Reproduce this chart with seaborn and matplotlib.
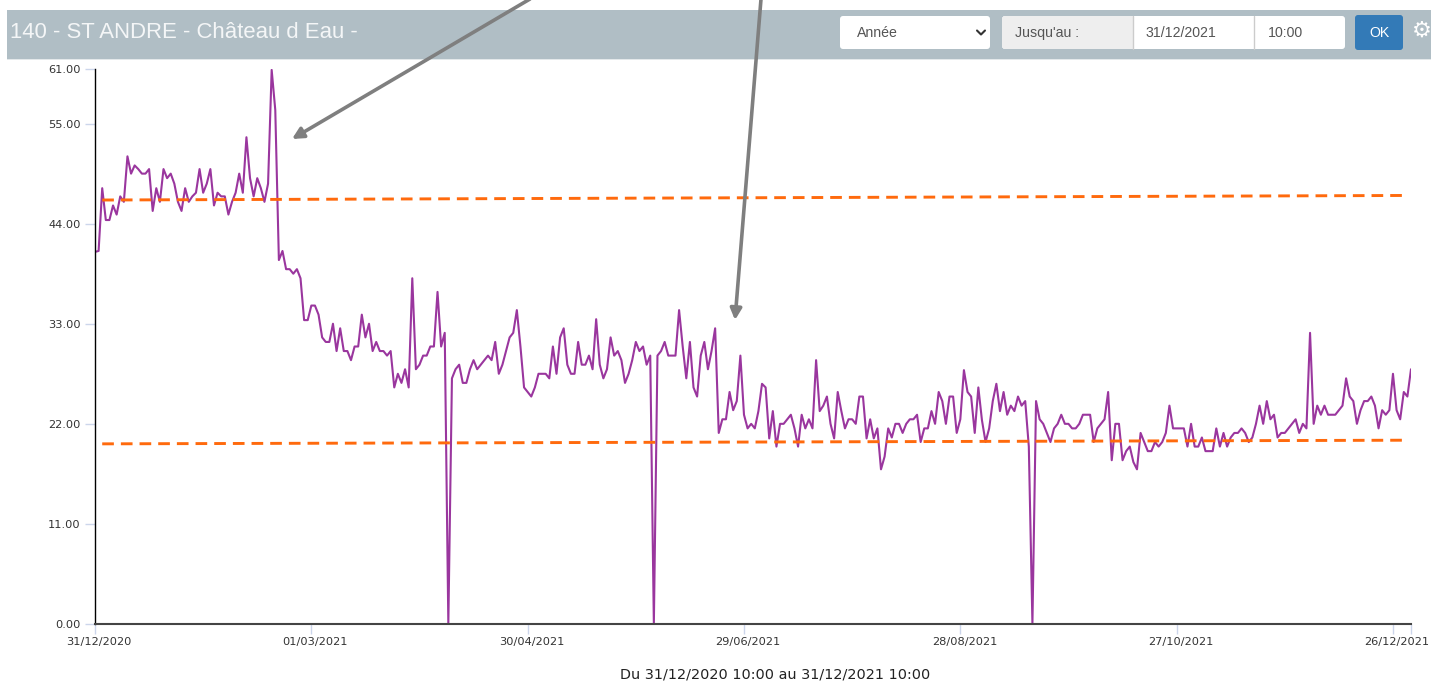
import matplotlib
matplotlib.use("Agg")
import matplotlib.pyplot as plt
import matplotlib.dates as mdates
from matplotlib.patches import Rectangle, FancyBboxPatch
from matplotlib.transforms import ScaledTranslation
import pandas as pd
import seaborn as sns

# daily readings
values = [
    40.9, 41, 47.9, 44.4, 44.4, 46, 45, 47, 46.4, 51.4,
    49.5, 50.4, 50, 49.5, 49.5, 50, 45.4, 47.9, 46.4, 50,
    49, 49.5, 48.4, 46.4, 45.4, 47.9, 46.4, 47, 47.4, 50,
    47.4, 48.4, 50, 46, 47.4, 47, 47, 45, 46.4, 47.4,
    49.5, 47.4, 53.5, 49, 47, 49, 47.9, 46.4, 48.4, 60.9,
    56.5, 40, 41, 39, 39, 38.5, 39, 38, 33.4, 33.4,
    35, 35, 34, 31.5, 31, 31, 33, 30, 32.5, 30,
    30, 29, 30.5, 30.5, 34, 31.5, 33, 30, 31, 30,
    30, 29.5, 30, 26, 27.5, 26.5, 28, 26, 38, 28,
    28.5, 29.5, 29.5, 30.5, 30.5, 36.5, 30.5, 32, 0, 27,
    28, 28.5, 26.5, 26.5, 28, 29, 28, 28.5, 29, 29.5,
    29, 31, 27.5, 28.5, 30, 31.5, 32, 34.5, 30.5, 26,
    25.5, 25, 26, 27.5, 27.5, 27.5, 27, 30.5, 27.5, 31.5,
    32.5, 28.5, 27.5, 27.5, 31, 28.5, 28.5, 29.5, 28, 33.5,
    28.5, 27, 28, 31.5, 29.5, 30, 29, 26.5, 27.5, 29,
    31, 30, 30.5, 28.5, 29.5, 0, 29.5, 30, 31, 29.5,
    29.5, 29.5, 34.5, 30.5, 27, 31, 26, 25, 29.5, 31,
    28, 30, 32.5, 21, 22.5, 22.5, 25.5, 23.5, 24.5, 29.5,
    23, 21.5, 22, 21.5, 23.4, 26.4, 26, 20.4, 23.4, 19.5,
    22, 22, 22.5, 23, 21.5, 19.5, 23, 21.5, 22.5, 21.5,
    29, 23.4, 24, 25, 22, 20.4, 25.5, 23.4, 21.5, 22.5,
    22.5, 22, 25, 25, 20.4, 22.5, 20.4, 21.5, 17, 18.4,
    21.5, 20.5, 22, 22, 21, 22, 22.5, 22.5, 23, 20,
    21.5, 21.5, 23.4, 22, 25.5, 24.5, 22, 25, 25, 21,
    22.5, 27.9, 25.5, 25, 21, 26, 22.4, 20, 21.5, 24.5,
    26.4, 23.4, 25.5, 23, 24, 23.4, 25, 24, 24.5, 19.5,
    0, 24.5, 22.5, 22, 21, 20, 21.5, 22, 23, 22,
    22, 21.5, 21.5, 22, 23, 23, 23, 20, 21.5, 22,
    22.5, 25.5, 18, 22, 22, 18, 19, 19.5, 17.8, 17,
    21, 20, 19, 19, 20, 19.5, 20, 21, 24, 21.5,
    21.5, 21.5, 21.5, 19.5, 22, 19.5, 19.5, 20.5, 19, 19,
    19, 21.5, 19.5, 21, 19.5, 20.5, 21, 21, 21.5, 21,
    20, 20.5, 22, 24, 22, 24.5, 22.5, 23, 20.5, 21,
    21, 21.5, 22, 22.5, 21, 22, 21.5, 32, 22, 24,
    23, 24, 23, 23, 23, 23.5, 24, 27, 25, 24.5,
    22, 23.5, 24.5, 24.5, 25, 24, 21.5, 23.5, 23, 23.5,
    27.5, 23.5, 22.5, 25.5, 25, 28,
]
upper_limit = [46.6, 47.1]
lower_limit = [19.8, 20.2]
limit_dates = ["2021-01-02", "2021-12-29"]
y_ticks = [0, 11, 22, 33, 44, 55, 61]
x_tick_dates = ["2020-12-31", "2021-03-01", "2021-04-30", "2021-06-29",
                "2021-08-28", "2021-10-27", "2021-12-26", "2021-12-31"]
x_tick_labels = ["31/12/2020", "01/03/2021", "30/04/2021", "29/06/2021",
                 "28/08/2021", "27/10/2021", "26/12/2021", ""]

W, H = 1431, 681
purple = "#9a369e"
orange = "#ff6a0d"
tick_color = "#ccd6eb"
header_color = "#b0bec5"

sns.set_theme(style="white")
plt.rcParams["font.family"] = ["DejaVu Sans"]

fig = plt.figure(figsize=(W / 100, H / 100), dpi=100)
ax = fig.add_axes([95 / W, 1 - 624 / H, (1411 - 95) / W, (624 - 69) / H])

data = pd.DataFrame({"date": pd.date_range("2020-12-31", periods=len(values)), "value": values})
limits = pd.DataFrame({"date": pd.to_datetime(limit_dates), "upper": upper_limit, "lower": lower_limit})

sns.lineplot(data, x="date", y="value", color=purple, linewidth=1.5, ax=ax)
for col in ["upper", "lower"]:
    sns.lineplot(limits, x="date", y=col, color=orange, linewidth=2.1,
                 linestyle=(0, (4.0, 2.4)), ax=ax)

ax.set_xlim(data["date"].iloc[0], data["date"].iloc[-1])
ax.set_ylim(0, 61)
ax.set_xlabel("")
ax.set_ylabel("")
ax.set_yticks(y_ticks)
ax.set_yticklabels([f"{v:.2f}" for v in y_ticks])
ax.set_xticks(mdates.date2num(pd.to_datetime(x_tick_dates)))
ax.set_xticklabels(x_tick_labels)
ax.tick_params(axis="both", left=True, bottom=True, length=7.5, width=1, color=tick_color,
               labelsize=8.2, labelcolor="#333333", pad=2)
ax.tick_params(axis="y", pad=3)

# labels sit a little right of their tick
shift = ScaledTranslation(3 / 72, 0, fig.dpi_scale_trans)
for lab in ax.get_xticklabels():
    lab.set_transform(lab.get_transform() + shift)

sns.despine(ax=ax)
ax.spines["left"].set_color("black")
ax.spines["left"].set_linewidth(1)
ax.spines["bottom"].set_color("#444444")
ax.spines["bottom"].set_linewidth(1.5)

# page overlay in pixels: header bar, controls, arrows, caption
page = fig.add_axes([0, 0, 1, 1], zorder=5)
page.set_xlim(0, W)
page.set_ylim(H, 0)
page.axis("off")
page.patch.set_alpha(0)

page.add_patch(Rectangle((7, 10), W - 7, 49, color=header_color, lw=0))
page.add_patch(Rectangle((7, 59), W - 7, 1, color="#e3e8ea", lw=0))
page.text(10, 32.5, "140 - ST ANDRE - Château d Eau -", color="#f4f6f7", fontsize=15.9,
          family="Liberation Sans", va="center")


def box(x0, y0, x1, y1, color):
    page.add_patch(FancyBboxPatch((x0 + 3, y0 + 3), x1 - x0 - 6, y1 - y0 - 6, boxstyle="round,pad=3",
                                  fc=color, ec="none"))


box(840, 16, 990, 49, "white")
box(1002, 16, 1345, 49, "white")
box(1002, 16, 1136, 49, "#eeeeee")
page.add_patch(Rectangle((1133, 16), 121, 33, fc="white", ec="none"))
page.plot([1133, 1133], [16, 49], color="#cccccc", lw=1)
page.plot([1254, 1254], [16, 49], color="#cccccc", lw=1)
box(1355, 15, 1403, 50, "#337ab7")

ui_text = dict(family="Liberation Sans", fontsize=10.2, color="#555555", va="center")
page.text(857, 33, "Année", **ui_text)
page.text(1015, 33, "Jusqu'au :", **ui_text)
page.text(1146, 33, "31/12/2021", **ui_text)
page.text(1268, 33, "10:00", **ui_text)
page.text(1379, 33, "OK", family="Liberation Sans", fontsize=10.2, color="white", va="center", ha="center")
page.plot([977, 981, 985], [30.5, 34.5, 30.5], color="#333333", lw=1.5)
page.text(1422, 31, "\u2699", color="white", fontsize=16, ha="center", va="center", family="DejaVu Sans")

for start, end in [((530, -1), (292, 139)), ((761, -1), (735, 320))]:
    page.annotate("", xy=end, xytext=start, xycoords="data", textcoords="data", annotation_clip=False,
                  arrowprops=dict(arrowstyle="-|>,head_length=0.55,head_width=0.28", color="#7f7f7f",
                                  lw=2.6, shrinkA=0, shrinkB=0))

page.text(775.5, 674, "Du 31/12/2020 10:00 au 31/12/2021 10:00", fontsize=10.4, color="#222222",
          ha="center", va="center")

fig.savefig("out.png", dpi=100)
